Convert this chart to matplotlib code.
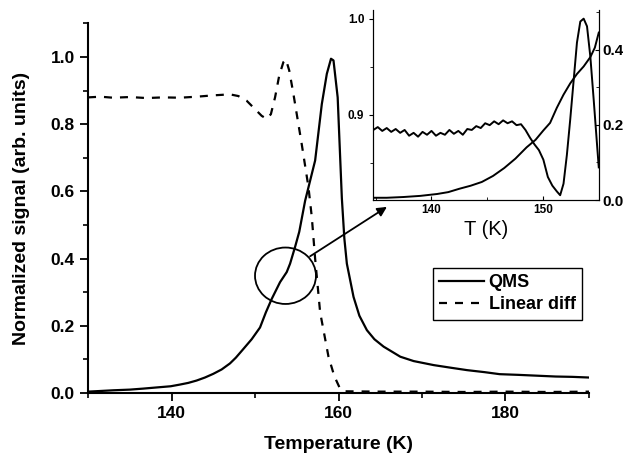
import numpy as np
import matplotlib.pyplot as plt
from matplotlib.patches import Ellipse
from matplotlib.ticker import MultipleLocator

plt.rcParams['font.family'] = ['Liberation Sans', 'DejaVu Sans']

# --- main panel data ---
qms_T = [130.0, 131.5, 133.0, 135.0, 136.6, 138.0, 139.9, 141.0, 142.0, 143.0,
         144.0, 145.0, 146.0, 147.0, 147.7, 148.5, 149.6, 150.6, 151.3, 152.0,
         153.0, 153.8, 154.2, 154.8, 155.3, 156.0, 157.2, 158.0, 158.6, 159.1,
         159.4, 159.9, 160.4, 160.7, 161.0, 161.8, 162.5, 163.4, 164.3, 165.4,
         167.4, 169.0, 171.4, 173.5, 175.4, 177.5, 179.3, 181.5, 183.3, 186.0,
         188.0, 190.0]
qms_v = [0.004, 0.006, 0.008, 0.010, 0.013, 0.016, 0.020, 0.025, 0.030, 0.037,
         0.046, 0.057, 0.070, 0.088, 0.105, 0.128, 0.160, 0.195, 0.240, 0.280,
         0.330, 0.360, 0.385, 0.435, 0.480, 0.572, 0.692, 0.860, 0.950, 0.995,
         0.990, 0.880, 0.580, 0.460, 0.385, 0.286, 0.230, 0.187, 0.160, 0.138,
         0.108, 0.095, 0.083, 0.075, 0.068, 0.062, 0.056, 0.054, 0.052, 0.049,
         0.048, 0.046]

lin_T = [130.0, 131.5, 133.0, 135.0, 137.0, 139.0, 141.0, 143.0, 145.0, 147.0,
         148.0, 149.0, 150.0, 150.8, 151.4, 151.9, 152.4, 152.9, 153.4, 153.7,
         154.1, 154.6, 155.2, 155.6, 156.4, 156.8, 157.2, 157.8, 158.8, 159.5,
         160.2, 160.8, 165.0, 170.0, 175.0, 180.0, 185.0, 190.0]
lin_v = [0.880, 0.882, 0.879, 0.881, 0.878, 0.880, 0.879, 0.882, 0.886, 0.889,
         0.884, 0.870, 0.845, 0.825, 0.816, 0.830, 0.880, 0.945, 0.985, 0.993,
         0.960, 0.890, 0.800, 0.740, 0.613, 0.524, 0.400, 0.240, 0.108, 0.050,
         0.012, 0.005, 0.004, 0.004, 0.003, 0.004, 0.003, 0.004]

# --- inset data ---
ins_lin_T = [134.8, 135.2, 135.6, 136.0, 136.4, 136.8, 137.2, 137.6, 138.0, 138.4,
             138.8, 139.2, 139.6, 140.0, 140.4, 140.8, 141.2, 141.6, 142.0, 142.4,
             142.8, 143.2, 143.6, 144.0, 144.4, 144.8, 145.2, 145.6, 146.0, 146.4,
             146.8, 147.2, 147.6, 148.0, 148.4, 148.8, 149.2, 149.6, 150.0, 150.4,
             150.8, 151.2, 151.5, 151.8, 152.1, 152.4, 152.7, 153.0, 153.3, 153.6,
             153.9, 154.2, 154.5, 154.8, 154.95]
ins_lin_v = [0.884, 0.887, 0.883, 0.886, 0.882, 0.885, 0.881, 0.884, 0.878, 0.881,
             0.877, 0.882, 0.879, 0.883, 0.878, 0.881, 0.879, 0.884, 0.880, 0.883,
             0.879, 0.885, 0.884, 0.888, 0.886, 0.891, 0.889, 0.893, 0.890, 0.894,
             0.891, 0.893, 0.889, 0.890, 0.884, 0.876, 0.869, 0.863, 0.853, 0.835,
             0.826, 0.820, 0.816, 0.828, 0.858, 0.895, 0.935, 0.975, 0.997, 1.000,
             0.992, 0.960, 0.915, 0.868, 0.845]

ins_qms_T = [134.8, 136.0, 137.5, 139.0, 140.5, 141.5, 142.5, 143.5, 144.5, 145.5,
             146.5, 147.5, 148.5, 149.3, 150.0, 150.6, 151.2, 151.8, 152.4, 153.0,
             153.6, 154.2, 154.6, 154.95]
ins_qms_v = [0.006, 0.006, 0.008, 0.011, 0.016, 0.021, 0.030, 0.038, 0.048, 0.064,
             0.085, 0.110, 0.140, 0.160, 0.185, 0.205, 0.245, 0.280, 0.310, 0.335,
             0.355, 0.380, 0.405, 0.445]

fig = plt.figure(figsize=(6.23, 4.55), dpi=100)
ax = fig.add_axes([0.1413, 0.1363, 0.8041, 0.8121])

ax.plot(qms_T, qms_v, color='black', lw=1.6, label='QMS')
ax.plot(lin_T, lin_v, color='black', lw=1.6, ls=(0, (3.6, 3.6)), label='Linear diff')

ax.set_xlim(130, 190)
ax.set_ylim(0, 1.1)
ax.xaxis.set_major_locator(MultipleLocator(20))
ax.xaxis.set_minor_locator(MultipleLocator(10))
ax.yaxis.set_minor_locator(MultipleLocator(0.1))
ax.set_yticks([0.0, 0.2, 0.4, 0.6, 0.8, 1.0])
ax.set_yticklabels(['0.0', '0.2', '0.4', '0.6', '0.8', '1.0'])
for s in ['top', 'right']:
    ax.spines[s].set_visible(False)
for s in ['left', 'bottom']:
    ax.spines[s].set_linewidth(1.5)
ax.tick_params(which='major', direction='out', length=6, width=1.3, labelsize=12.5)
ax.tick_params(which='minor', direction='out', length=3.5, width=1.2)
for lbl in ax.get_xticklabels() + ax.get_yticklabels():
    lbl.set_fontweight('bold')
ax.set_xlabel('Temperature (K)', fontsize=14, fontweight='bold', labelpad=11)
ax.set_ylabel('Normalized signal (arb. units)', fontsize=14, fontweight='bold', labelpad=15)

leg = ax.legend(loc='upper right', bbox_to_anchor=(0.986, 0.339), fancybox=False,
                edgecolor='black', framealpha=1, borderaxespad=0, handlelength=2.5,
                handletextpad=0.25, borderpad=0.35, labelspacing=0.3,
                prop={'size': 13, 'weight': 'bold'})
leg.get_frame().set_linewidth(1.0)

# circle and arrow
ax.add_patch(Ellipse((153.65, 0.349), 7.3, 0.168, fill=False, ec='black', lw=1.3))
ax.annotate('', xy=(165.8, 0.554), xytext=(156.6, 0.407),
            arrowprops=dict(arrowstyle='-|>', color='black', lw=1.3,
                            mutation_scale=14, shrinkA=0, shrinkB=0))

# --- inset ---
ins = fig.add_axes([0.5992, 0.5604, 0.3628, 0.4176])
ins.plot(ins_lin_T, ins_lin_v, color='black', lw=1.4)
ins.set_xlim(134.8, 155)
ins.set_ylim(0.811, 1.009)
ins.set_yticks([0.9, 1.0])
ins.set_yticklabels(['0.9', '1.0'])
ins.yaxis.set_minor_locator(MultipleLocator(0.05))
ins.set_xticks([140, 150])
ins.xaxis.set_minor_locator(MultipleLocator(5))
ins.spines['top'].set_visible(False)
ins.tick_params(axis='y', which='both', direction='out', labelsize=8.5)
ins.tick_params(axis='y', which='major', length=3)
ins.tick_params(axis='y', which='minor', length=2)
ins.tick_params(axis='x', which='both', direction='in', labelsize=8.5, pad=3)
ins.tick_params(axis='x', which='major', length=3)
ins.tick_params(axis='x', which='minor', length=2)
for lbl in ins.get_xticklabels() + ins.get_yticklabels():
    lbl.set_fontweight('bold')
ins.set_xlabel('T (K)', fontsize=14.5, labelpad=3)

ins2 = ins.twinx()
ins2.plot(ins_qms_T, ins_qms_v, color='black', lw=1.4)
ins2.set_ylim(0, 0.505)
ins2.set_yticks([0.0, 0.2, 0.4])
ins2.set_yticklabels(['0.0', '0.2', '0.4'])
ins2.yaxis.set_minor_locator(MultipleLocator(0.1))
ins2.spines['top'].set_visible(False)
ins2.tick_params(axis='y', which='both', direction='in', labelsize=11, pad=2)
ins2.tick_params(axis='y', which='major', length=3)
ins2.tick_params(axis='y', which='minor', length=2)
for lbl in ins2.get_yticklabels():
    lbl.set_fontweight('bold')

fig.savefig('out.png', dpi=100)
